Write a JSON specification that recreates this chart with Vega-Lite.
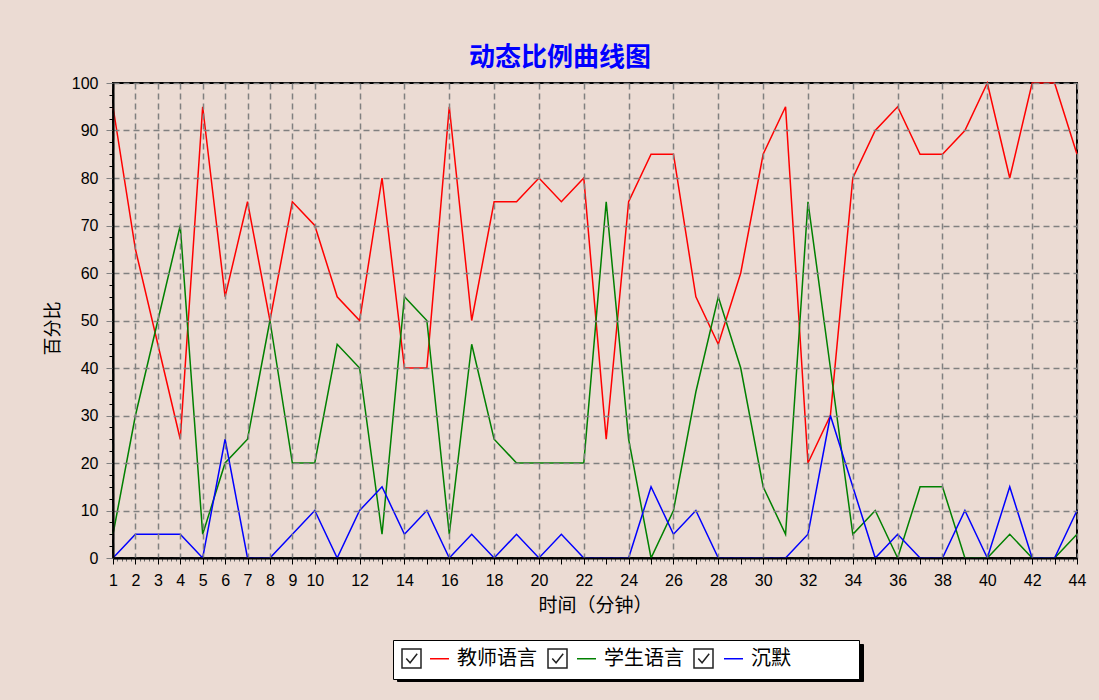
{
  "$schema": "https://vega.github.io/schema/vega-lite/v6.json",
  "width": 964,
  "height": 475,
  "autosize": {"type": "none"},
  "padding": {"left": 113, "top": 83, "right": 22, "bottom": 142},
  "background": "#ebdbd3",
  "title": {
    "text": "动态比例曲线图",
    "font": "Noto Sans CJK SC",
    "fontSize": 26,
    "fontWeight": "bold",
    "color": "#0000ff",
    "anchor": "middle",
    "offset": 4,
    "dx": -35
  },
  "config": {
    "font": "Liberation Sans",
    "view": {
      "stroke": "#000000",
      "strokeWidth": 2,
      "fill": {
        "gradient": "linear",
        "x1": 0, "y1": 0, "x2": 0, "y2": 1,
        "stops": [
          {"offset": 0, "color": "#f9dfd5"},
          {"offset": 1, "color": "#dfd5cd"}
        ]
      }
    }
  },
  "layer": [
    {
      "data": {
        "values": [
          {"t": 1, "教师语言": 95, "学生语言": 5, "沉默": 0},
          {"t": 2, "教师语言": 65, "学生语言": 30, "沉默": 5},
          {"t": 3, "教师语言": 45, "学生语言": 50, "沉默": 5},
          {"t": 4, "教师语言": 25, "学生语言": 70, "沉默": 5},
          {"t": 5, "教师语言": 95, "学生语言": 5, "沉默": 0},
          {"t": 6, "教师语言": 55, "学生语言": 20, "沉默": 25},
          {"t": 7, "教师语言": 75, "学生语言": 25, "沉默": 0},
          {"t": 8, "教师语言": 50, "学生语言": 50, "沉默": 0},
          {"t": 9, "教师语言": 75, "学生语言": 20, "沉默": 5},
          {"t": 10, "教师语言": 70, "学生语言": 20, "沉默": 10},
          {"t": 11, "教师语言": 55, "学生语言": 45, "沉默": 0},
          {"t": 12, "教师语言": 50, "学生语言": 40, "沉默": 10},
          {"t": 13, "教师语言": 80, "学生语言": 5, "沉默": 15},
          {"t": 14, "教师语言": 40, "学生语言": 55, "沉默": 5},
          {"t": 15, "教师语言": 40, "学生语言": 50, "沉默": 10},
          {"t": 16, "教师语言": 95, "学生语言": 5, "沉默": 0},
          {"t": 17, "教师语言": 50, "学生语言": 45, "沉默": 5},
          {"t": 18, "教师语言": 75, "学生语言": 25, "沉默": 0},
          {"t": 19, "教师语言": 75, "学生语言": 20, "沉默": 5},
          {"t": 20, "教师语言": 80, "学生语言": 20, "沉默": 0},
          {"t": 21, "教师语言": 75, "学生语言": 20, "沉默": 5},
          {"t": 22, "教师语言": 80, "学生语言": 20, "沉默": 0},
          {"t": 23, "教师语言": 25, "学生语言": 75, "沉默": 0},
          {"t": 24, "教师语言": 75, "学生语言": 25, "沉默": 0},
          {"t": 25, "教师语言": 85, "学生语言": 0, "沉默": 15},
          {"t": 26, "教师语言": 85, "学生语言": 10, "沉默": 5},
          {"t": 27, "教师语言": 55, "学生语言": 35, "沉默": 10},
          {"t": 28, "教师语言": 45, "学生语言": 55, "沉默": 0},
          {"t": 29, "教师语言": 60, "学生语言": 40, "沉默": 0},
          {"t": 30, "教师语言": 85, "学生语言": 15, "沉默": 0},
          {"t": 31, "教师语言": 95, "学生语言": 5, "沉默": 0},
          {"t": 32, "教师语言": 20, "学生语言": 75, "沉默": 5},
          {"t": 33, "教师语言": 30, "学生语言": 40, "沉默": 30},
          {"t": 34, "教师语言": 80, "学生语言": 5, "沉默": 15},
          {"t": 35, "教师语言": 90, "学生语言": 10, "沉默": 0},
          {"t": 36, "教师语言": 95, "学生语言": 0, "沉默": 5},
          {"t": 37, "教师语言": 85, "学生语言": 15, "沉默": 0},
          {"t": 38, "教师语言": 85, "学生语言": 15, "沉默": 0},
          {"t": 39, "教师语言": 90, "学生语言": 0, "沉默": 10},
          {"t": 40, "教师语言": 100, "学生语言": 0, "沉默": 0},
          {"t": 41, "教师语言": 80, "学生语言": 5, "沉默": 15},
          {"t": 42, "教师语言": 100, "学生语言": 0, "沉默": 0},
          {"t": 43, "教师语言": 100, "学生语言": 0, "沉默": 0},
          {"t": 44, "教师语言": 85, "学生语言": 5, "沉默": 10}
        ]
      },
      "transform": [{"fold": ["教师语言", "学生语言", "沉默"], "as": ["series", "value"]}],
      "mark": {"type": "line", "strokeWidth": 1.5},
      "encoding": {
        "x": {
          "field": "t",
          "type": "quantitative",
          "scale": {"domain": [1, 44], "nice": false, "zero": false},
          "axis": {
            "title": "时间（分钟）",
            "values": [1,1.2,1.4,1.6,1.8,2,2.2,2.4,2.6,2.8,3,3.2,3.4,3.6,3.8,4,4.2,4.4,4.6,4.8,5,5.2,5.4,5.6,5.8,6,6.2,6.4,6.6,6.8,7,7.2,7.4,7.6,7.8,8,8.2,8.4,8.6,8.8,9,9.2,9.4,9.6,9.8,10,10.2,10.4,10.6,10.8,11,11.2,11.4,11.6,11.8,12,12.2,12.4,12.6,12.8,13,13.2,13.4,13.6,13.8,14,14.2,14.4,14.6,14.8,15,15.2,15.4,15.6,15.8,16,16.2,16.4,16.6,16.8,17,17.2,17.4,17.6,17.8,18,18.2,18.4,18.6,18.8,19,19.2,19.4,19.6,19.8,20,20.2,20.4,20.6,20.8,21,21.2,21.4,21.6,21.8,22,22.2,22.4,22.6,22.8,23,23.2,23.4,23.6,23.8,24,24.2,24.4,24.6,24.8,25,25.2,25.4,25.6,25.8,26,26.2,26.4,26.6,26.8,27,27.2,27.4,27.6,27.8,28,28.2,28.4,28.6,28.8,29,29.2,29.4,29.6,29.8,30,30.2,30.4,30.6,30.8,31,31.2,31.4,31.6,31.8,32,32.2,32.4,32.6,32.8,33,33.2,33.4,33.6,33.8,34,34.2,34.4,34.6,34.8,35,35.2,35.4,35.6,35.8,36,36.2,36.4,36.6,36.8,37,37.2,37.4,37.6,37.8,38,38.2,38.4,38.6,38.8,39,39.2,39.4,39.6,39.8,40,40.2,40.4,40.6,40.8,41,41.2,41.4,41.6,41.8,42,42.2,42.4,42.6,42.8,43,43.2,43.4,43.6,43.8,44],
            "labelExpr": "((datum.value <= 10 && datum.value % 1 === 0) || datum.value % 2 === 0) ? format(datum.value, 'd') : ''",
            "labelFlush": false,
            "labelOverlap": false,
            "labelFont": "Liberation Sans",
            "labelFontSize": 16,
            "labelColor": "#000000",
            "labelPadding": 8,
            "tickSize": {"condition": {"test": "datum.value % 1 === 0", "value": 6}, "value": 3},
            "tickColor": {"condition": {"test": "datum.value % 1 === 0", "value": "#000000"}, "value": "#666666"},
            "tickWidth": 1,
            "grid": true,
            "gridColor": "#808080",
            "gridDash": [6, 4],
            "gridWidth": 1.5,
            "gridOpacity": {"condition": {"test": "(datum.value <= 10 && datum.value % 1 === 0) || datum.value % 2 === 0", "value": 1}, "value": 0},
            "domainColor": "#000000",
            "domainWidth": 2,
            "titleFont": "Noto Sans CJK SC",
            "titleFontSize": 19,
            "titleFontWeight": "normal",
            "titleColor": "#000000",
            "titlePadding": 8,
            "zindex": 1
          }
        },
        "y": {
          "field": "value",
          "type": "quantitative",
          "scale": {"domain": [0, 100], "nice": false},
          "axis": {
            "title": "百分比",
            "values": [0,2.5,5,7.5,10,12.5,15,17.5,20,22.5,25,27.5,30,32.5,35,37.5,40,42.5,45,47.5,50,52.5,55,57.5,60,62.5,65,67.5,70,72.5,75,77.5,80,82.5,85,87.5,90,92.5,95,97.5,100],
            "labelExpr": "datum.value % 10 === 0 ? format(datum.value, 'd') : ''",
            "labelOverlap": false,
            "labelFont": "Liberation Sans",
            "labelFontSize": 16,
            "labelColor": "#000000",
            "labelPadding": 8,
            "tickSize": {"condition": {"test": "datum.value % 10 === 0", "value": 7}, "value": 4},
            "tickColor": {"condition": {"test": "datum.value % 10 === 0", "value": "#808080"}, "value": "#000000"},
            "tickWidth": 1,
            "grid": true,
            "gridColor": "#808080",
            "gridDash": [6, 4],
            "gridWidth": 1.5,
            "gridOpacity": {"condition": {"test": "datum.value % 10 === 0", "value": 1}, "value": 0},
            "domainColor": "#000000",
            "domainWidth": 2,
            "titleFont": "Noto Sans CJK SC",
            "titleFontSize": 18,
            "titleFontWeight": "normal",
            "titleColor": "#000000",
            "titlePadding": 9,
            "titleY": 245,
            "zindex": 1
          }
        },
        "color": {
          "field": "series",
          "type": "nominal",
          "scale": {"domain": ["教师语言", "学生语言", "沉默"], "range": ["#ff0000", "#008000", "#0000ff"]},
          "legend": {
            "title": null,
            "orient": "none",
            "legendX": 316,
            "legendY": 565,
            "direction": "horizontal",
            "symbolType": "stroke",
            "symbolSize": 361,
            "symbolStrokeWidth": 1.5,
            "labelFont": "Noto Sans CJK SC",
            "labelFontSize": 20,
            "labelColor": "#000000",
            "labelOffset": 7,
            "columnPadding": 37,
            "padding": 0,
            "zindex": 2
          }
        }
      }
    },
    {
      "data": {
        "values": [
          {"cb": "a", "sh": "a"},
          {"cb": "b", "sh": "b"},
          {"cb": "c", "sh": "c"},
          {"cb": "d", "sh": "d"}
        ]
      },
      "mark": {"type": "point"},
      "encoding": {
        "shape": {
          "field": "cb",
          "type": "nominal",
          "scale": {
            "range": [
              "M-1,-1H1V1H-1Z M-0.55,0L-0.15,0.45L0.6,-0.5",
              "M-1,-1H1V1H-1Z M-0.55,0L-0.15,0.45L0.6,-0.5",
              "M-1,-1H1V1H-1Z M-0.55,0L-0.15,0.45L0.6,-0.5",
              "M0,0L0,0"
            ]
          },
          "legend": {
            "title": null,
            "orient": "none",
            "legendX": 280,
            "legendY": 557,
            "direction": "horizontal",
            "symbolSize": 361,
            "symbolStrokeColor": "#222222",
            "symbolFillColor": "#ffffff",
            "symbolStrokeWidth": 1.5,
            "symbolOpacity": 1,
            "labelFontSize": 20,
            "labelOffset": -16,
            "labelExpr": "''",
            "columnPadding": 121,
            "padding": 8,
            "fillColor": "#ffffff",
            "strokeColor": "#000000",
            "zindex": 1
          }
        },
        "opacity": {
          "field": "sh",
          "type": "nominal",
          "scale": {"range": [0, 0]},
          "legend": {
            "title": null,
            "orient": "none",
            "legendX": 284,
            "legendY": 561,
            "direction": "horizontal",
            "symbolSize": 361,
            "symbolOpacity": 0,
            "labelFontSize": 20,
            "labelOffset": -16,
            "labelExpr": "''",
            "columnPadding": 195,
            "padding": 8,
            "fillColor": "#000000",
            "strokeColor": "#000000",
            "zindex": 0
          }
        }
      }
    }
  ]
}
